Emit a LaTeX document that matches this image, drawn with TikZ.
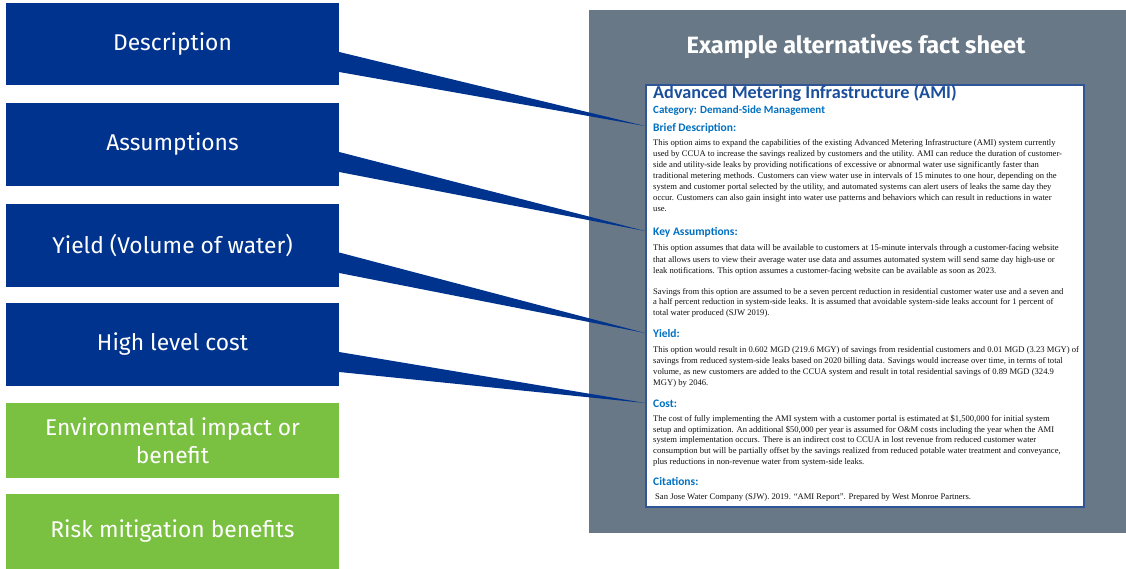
\documentclass[tikz,border=0pt]{standalone}
\usepackage{fontspec}
\setmainfont{Liberation Serif}
\newfontfamily\boxfont{Fira Sans}
\newfontfamily\calfont{Carlito}
\definecolor{boxblue}{HTML}{00338D}
\definecolor{boxgreen}{HTML}{7AC142}
\definecolor{panelgrey}{HTML}{687887}
\definecolor{sheetborder}{HTML}{2F5597}
\definecolor{titleblue}{HTML}{1B4F9C}
\definecolor{headblue}{HTML}{0070C0}
\definecolor{bodytext}{HTML}{111111}
\tikzset{
  labelbox/.style={inner sep=0pt, text=white, minimum width=333pt, align=center,
    font=\boxfont\fontsize{22.8}{28}\selectfont},
  bluebox/.style={labelbox, fill=boxblue, minimum height=83pt},
  greenbox/.style={labelbox, fill=boxgreen, minimum height=75pt},
  wedge/.style={fill=boxblue, draw=none},
  body/.style={anchor=base west, inner sep=0pt, text=bodytext,
    font=\fontsize{8.6}{10.9}\selectfont},
  head/.style={anchor=base west, inner sep=0pt, text=headblue,
    font=\calfont\bfseries\fontsize{11.5}{13}\selectfont},
}
\newcommand\factline[3]{\node[body] (#1) at (653,#2) {#3};}
\begin{document}
\begin{tikzpicture}[x=1pt,y=-1pt]
\useasboundingbox (0,0) rectangle (1126,569);
% panel and sheet
\node[fill=panelgrey, inner sep=0pt, minimum width=537pt, minimum height=523pt] (panel) at (857.5,271.5) {};
\node[text=white, inner sep=0pt, font=\boxfont\bfseries\fontsize{23.6}{28}\selectfont] (ptitle) at (856,47) {Example alternatives fact sheet};
\node[draw=sheetborder, line width=1.2pt, fill=white, inner sep=0pt, minimum width=438pt, minimum height=422pt] (sheet) at (865,296) {};
% sheet content
\node[anchor=base west, inner sep=0pt, text=titleblue, font=\calfont\bfseries\fontsize{18.2}{22}\selectfont] (stitle) at (653,99) {Advanced Metering Infrastructure (AMI)};
\node[anchor=base west, inner sep=0pt, text=headblue, font=\calfont\bfseries\fontsize{11}{13}\selectfont] (cat) at (653,114) {Category: Demand-Side Management};
\node[head] (hdesc) at (653,132) {Brief Description:};
\factline{d1}{146}{This option aims to expand the capabilities of the existing Advanced Metering Infrastructure (AMI) system currently}
\factline{d2}{157}{used by CCUA to increase the savings realized by customers and the utility. AMI can reduce the duration of customer-}
\factline{d3}{168}{side and utility-side leaks by providing notifications of excessive or abnormal water use significantly faster than}
\factline{d4}{179}{traditional metering methods. Customers can view water use in intervals of 15 minutes to one hour, depending on the}
\factline{d5}{190}{system and customer portal selected by the utility, and automated systems can alert users of leaks the same day they}
\factline{d6}{201}{occur. Customers can also gain insight into water use patterns and behaviors which can result in reductions in water}
\factline{d7}{212}{use.}
\node[head] (hass) at (653,236) {Key Assumptions:};
\factline{a1}{251}{This option assumes that data will be available to customers at 15-minute intervals through a customer-facing website}
\factline{a2}{262}{that allows users to view their average water use data and assumes automated system will send same day high-use or}
\factline{a3}{273}{leak notifications. This option assumes a customer-facing website can be available as soon as 2023.}
\factline{a4}{294}{Savings from this option are assumed to be a seven percent reduction in residential customer water use and a seven and}
\factline{a5}{304.5}{a half percent reduction in system-side leaks. It is assumed that avoidable system-side leaks account for 1 percent of}
\factline{a6}{315}{total water produced (SJW 2019).}
\node[head] (hyield) at (653,337) {Yield:};
\factline{y1}{352}{This option would result in 0.602 MGD (219.6 MGY) of savings from residential customers and 0.01 MGD (3.23 MGY) of}
\factline{y2}{363}{savings from reduced system-side leaks based on 2020 billing data. Savings would increase over time, in terms of total}
\factline{y3}{374}{volume, as new customers are added to the CCUA system and result in total residential savings of 0.89 MGD (324.9}
\factline{y4}{385}{MGY) by 2046.}
\node[head] (hcost) at (653,407) {Cost:};
\factline{c1}{421}{The cost of fully implementing the AMI system with a customer portal is estimated at \$1,500,000 for initial system}
\factline{c2}{432}{setup and optimization. An additional \$50,000 per year is assumed for O\&M costs including the year when the AMI}
\factline{c3}{442.5}{system implementation occurs. There is an indirect cost to CCUA in lost revenue from reduced customer water}
\factline{c4}{453}{consumption but will be partially offset by the savings realized from reduced potable water treatment and conveyance,}
\factline{c5}{464}{plus reductions in non-revenue water from system-side leaks.}
\node[head] (hcit) at (653,485) {Citations:};
\node[body] (cit1) at (655,499) {San Jose Water Company (SJW). 2019. “AMI Report”. Prepared by West Monroe Partners.};
% left boxes
\node[bluebox, minimum height=82pt] (desc) at (172.5,44) {Description};
\node[bluebox] (assum) at (172.5,144.5) {Assumptions};
\node[bluebox] (yield) at (172.5,245.5) {Yield (Volume of water)};
\node[bluebox] (cost) at (172.5,344.5) {High level cost};
\node[greenbox] (env) at (172.5,440.5) {Environmental impact or\\benefit};
\node[greenbox] (risk) at (172.5,531.5) {Risk mitigation benefits};
% connector tips
\coordinate (t1) at (645,126);
\coordinate (t2) at (645,231);
\coordinate (t3) at (645,333);
\coordinate (t4) at (645,403);
\fill[wedge] ([yshift=-8pt]desc.east) -- ([yshift=-28pt]desc.east) -- (t1) -- cycle;
\fill[wedge] ([yshift=-7.5pt]assum.east) -- ([yshift=-27.5pt]assum.east) -- (t2) -- cycle;
\fill[wedge] ([yshift=-7pt]yield.east) -- ([yshift=-27.5pt]yield.east) -- (t3) -- cycle;
\fill[wedge] ([yshift=-7.5pt]cost.east) -- ([yshift=-27.5pt]cost.east) -- (t4) -- cycle;
\end{tikzpicture}
\end{document}
